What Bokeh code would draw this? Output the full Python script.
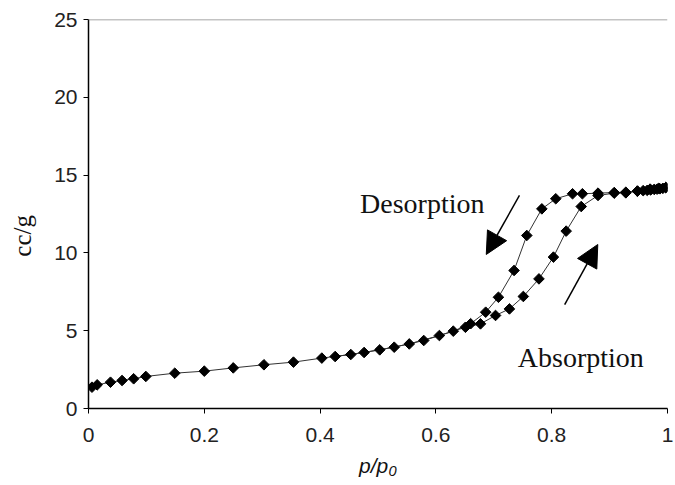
import numpy as np
from bokeh.plotting import figure
from bokeh.models import Range1d, Label, Arrow, NormalHead, Span, FixedTicker
from bokeh.embed import file_html
from bokeh.resources import INLINE

# Absorption (adsorption) branch
abs_x = [0.006, 0.015, 0.038, 0.058, 0.078, 0.099, 0.149, 0.200, 0.250, 0.303,
         0.354, 0.403, 0.453, 0.503, 0.554, 0.606, 0.651, 0.677, 0.703, 0.727,
         0.751, 0.778, 0.803, 0.825, 0.851, 0.880, 0.908, 0.928, 0.948, 0.958,
         0.965, 0.971, 0.977, 0.982, 0.987, 0.992, 0.997]
abs_y = [1.37, 1.52, 1.69, 1.80, 1.91, 2.06, 2.27, 2.40, 2.61, 2.81,
         2.98, 3.24, 3.47, 3.77, 4.15, 4.69, 5.22, 5.44, 5.98, 6.40,
         7.20, 8.33, 9.73, 11.40, 12.98, 13.69, 13.84, 13.86, 13.97, 14.00,
         14.02, 14.05, 14.08, 14.10, 14.12, 14.15, 14.20]

# Desorption branch
des_x = [0.997, 0.985, 0.970, 0.948, 0.928, 0.908, 0.880, 0.853, 0.836, 0.807,
         0.783, 0.757, 0.735, 0.708, 0.686, 0.660, 0.630, 0.579, 0.528, 0.476,
         0.426]
des_y = [14.20, 14.15, 14.10, 13.97, 13.90, 13.88, 13.84, 13.80, 13.80, 13.48,
         12.83, 11.12, 8.87, 7.15, 6.19, 5.45, 4.97, 4.37, 3.94, 3.60,
         3.34]

x_ticks = [0, 0.2, 0.4, 0.6, 0.8, 1.0]
x_tick_labels = ["0", "0.2", "0.4", "0.6", "0.8", "1"]
y_ticks = [0, 5, 10, 15, 20, 25]

p = figure(width=675, height=485, output_backend="svg", toolbar_location=None,
           x_range=Range1d(0, 1), y_range=Range1d(0, 25),
           min_border_left=88, min_border_right=8, min_border_top=19,
           min_border_bottom=77)
p.outline_line_color = None
p.grid.visible = False
p.background_fill_color = "white"

for ax in (p.xaxis[0], p.yaxis[0]):
    ax.axis_line_color = "black"
    ax.axis_line_width = 1.5
    ax.major_tick_line_color = "black"
    ax.major_tick_line_width = 1
    ax.major_tick_out = 5
    ax.major_tick_in = 0
    ax.minor_tick_line_color = None
    ax.major_label_text_font = "Liberation Sans"
    ax.major_label_text_font_size = "21px"
    ax.major_label_text_color = "#222222"
    ax.axis_label_text_color = "#111111"

p.xaxis.ticker = FixedTicker(ticks=x_ticks)
p.xaxis.major_label_overrides = {t: l for t, l in zip(x_ticks, x_tick_labels)}
p.xaxis.major_label_standoff = 14
p.xaxis.axis_label = "p/p\u2080"
p.xaxis.axis_label_text_font = "Liberation Sans"
p.xaxis.axis_label_text_font_style = "italic"
p.xaxis.axis_label_text_font_size = "21px"
p.xaxis.axis_label_standoff = 9

p.yaxis.ticker = FixedTicker(ticks=y_ticks)
p.yaxis.major_label_standoff = 6
p.yaxis.axis_label = "cc/g" + "\u00a0" * 7
p.yaxis.axis_label_text_font = "Liberation Serif"
p.yaxis.axis_label_text_font_style = "normal"
p.yaxis.axis_label_text_font_size = "25px"
p.yaxis.axis_label_standoff = 15

p.add_layout(Span(location=25, dimension="width", line_color="#888888", line_width=1.5))

p.line(abs_x, abs_y, line_color="#333333", line_width=1)
p.line(des_x, des_y, line_color="#333333", line_width=1)
p.scatter(abs_x, abs_y, marker="square", angle=np.pi / 4, size=7.5, color="black")
p.scatter(des_x, des_y, marker="square", angle=np.pi / 4, size=7.5, color="black")

p.add_layout(Arrow(end=NormalHead(size=22, fill_color="black", line_color="black"),
                   x_start=0.7443, y_start=13.69, x_end=0.687, y_end=9.90,
                   line_width=1.5, line_color="black"))
p.add_layout(Arrow(end=NormalHead(size=22, fill_color="black", line_color="black"),
                   x_start=0.8224, y_start=6.68, x_end=0.8796, y_end=10.54,
                   line_width=1.5, line_color="black"))

p.add_layout(Label(x=0.469, y=13.17, text="Desorption", text_font="Liberation Serif",
                   text_font_size="28px", text_color="#111111",
                   text_align="left", text_baseline="alphabetic"))
p.add_layout(Label(x=0.7414, y=3.28, text="Absorption", text_font="Liberation Serif",
                   text_font_size="28px", text_color="#111111",
                   text_align="left", text_baseline="alphabetic"))

open("out.html", "w").write(file_html(p, INLINE))
